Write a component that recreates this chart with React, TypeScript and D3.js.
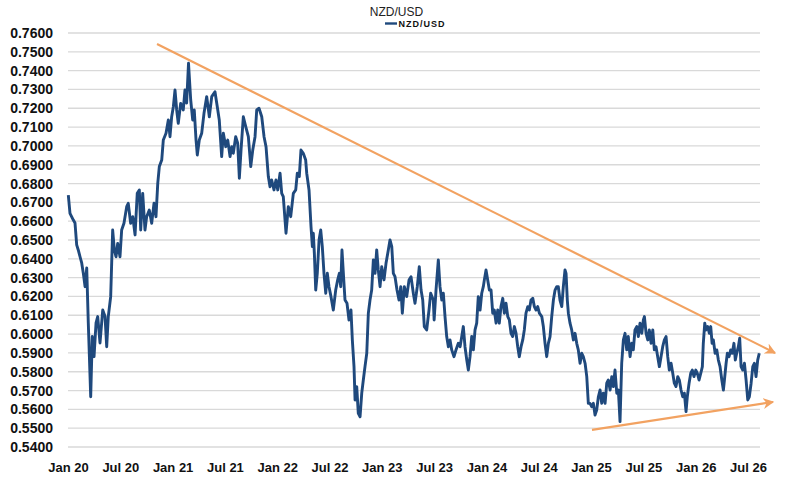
import { useEffect, useRef } from "react"
import * as d3 from "d3"

// NZD/USD, x = years since 1 Jan 2020, y = rate
const nzdUsd: [number, number][] = [
  [0.003, 0.6739], [0.019, 0.6642], [0.051, 0.6606], [0.067, 0.659], [0.083, 0.6474], [0.098, 0.6447],
  [0.115, 0.6411], [0.131, 0.6378], [0.146, 0.6325], [0.163, 0.6252], [0.179, 0.6351], [0.194, 0.6059],
  [0.217, 0.5667], [0.232, 0.5987], [0.249, 0.588], [0.268, 0.6059], [0.284, 0.6093], [0.306, 0.5953],
  [0.332, 0.6128], [0.354, 0.6093], [0.37, 0.5933], [0.385, 0.6093], [0.408, 0.6199], [0.427, 0.6553],
  [0.443, 0.6447], [0.459, 0.6411], [0.475, 0.6482], [0.497, 0.6411], [0.513, 0.6553], [0.535, 0.6589],
  [0.561, 0.6677], [0.576, 0.6695], [0.599, 0.6589], [0.619, 0.6624], [0.641, 0.6527], [0.662, 0.6748],
  [0.682, 0.6766], [0.695, 0.6553], [0.714, 0.6748], [0.736, 0.6553], [0.752, 0.6624], [0.777, 0.6659],
  [0.8, 0.6589], [0.822, 0.6695], [0.841, 0.6624], [0.858, 0.6801], [0.873, 0.689], [0.896, 0.6925],
  [0.911, 0.7031], [0.937, 0.7067], [0.959, 0.7138], [0.975, 0.7049], [0.991, 0.7155], [1.007, 0.7208],
  [1.023, 0.7297], [1.039, 0.7191], [1.054, 0.712], [1.077, 0.7226], [1.102, 0.7191], [1.118, 0.7297],
  [1.134, 0.7228], [1.152, 0.7439], [1.173, 0.7244], [1.192, 0.7138], [1.207, 0.7191], [1.224, 0.7031],
  [1.236, 0.6952], [1.255, 0.7031], [1.278, 0.7067], [1.3, 0.7173], [1.326, 0.7262], [1.351, 0.7155],
  [1.374, 0.7262], [1.405, 0.7288], [1.427, 0.7208], [1.446, 0.7138], [1.469, 0.6943], [1.485, 0.7067],
  [1.508, 0.6996], [1.527, 0.7031], [1.549, 0.6943], [1.565, 0.6996], [1.58, 0.6961], [1.603, 0.7049],
  [1.622, 0.7014], [1.638, 0.6828], [1.654, 0.6978], [1.676, 0.7155], [1.699, 0.7102], [1.724, 0.7049],
  [1.747, 0.689], [1.766, 0.6978], [1.788, 0.7049], [1.804, 0.7191], [1.826, 0.72], [1.852, 0.7155],
  [1.874, 0.7049], [1.893, 0.6996], [1.915, 0.6837], [1.931, 0.6783], [1.947, 0.6819], [1.969, 0.6766],
  [1.988, 0.6819], [2.005, 0.6766], [2.027, 0.6855], [2.043, 0.6748], [2.058, 0.673], [2.084, 0.6536],
  [2.106, 0.6677], [2.129, 0.6624], [2.154, 0.6748], [2.177, 0.6766], [2.192, 0.6855], [2.211, 0.6837],
  [2.227, 0.6978], [2.249, 0.6961], [2.272, 0.6925], [2.282, 0.6855], [2.304, 0.6766], [2.323, 0.6571],
  [2.336, 0.6465], [2.345, 0.6536], [2.355, 0.6429], [2.368, 0.6234], [2.383, 0.6323], [2.4, 0.65],
  [2.416, 0.6553], [2.431, 0.6465], [2.447, 0.6323], [2.464, 0.6217], [2.479, 0.6323], [2.495, 0.6252],
  [2.514, 0.6199], [2.536, 0.6128], [2.559, 0.6234], [2.578, 0.6288], [2.594, 0.6323], [2.607, 0.6252],
  [2.619, 0.6447], [2.636, 0.6288], [2.648, 0.6181], [2.667, 0.6164], [2.686, 0.6075], [2.705, 0.6128],
  [2.718, 0.5969], [2.734, 0.5827], [2.744, 0.565], [2.76, 0.5721], [2.775, 0.5579], [2.792, 0.5561],
  [2.808, 0.5686], [2.823, 0.5756], [2.839, 0.5827], [2.856, 0.5898], [2.871, 0.6111], [2.887, 0.6181],
  [2.903, 0.6234], [2.919, 0.6394], [2.935, 0.6323], [2.951, 0.6447], [2.966, 0.6341], [2.983, 0.6252],
  [2.999, 0.6358], [3.021, 0.6288], [3.04, 0.6376], [3.062, 0.6447], [3.078, 0.65], [3.095, 0.6465],
  [3.11, 0.6323], [3.126, 0.6305], [3.145, 0.6234], [3.164, 0.6181], [3.181, 0.6252], [3.196, 0.6111],
  [3.215, 0.6252], [3.238, 0.6199], [3.26, 0.6288], [3.279, 0.6305], [3.301, 0.6217], [3.317, 0.6164],
  [3.339, 0.6252], [3.358, 0.6358], [3.375, 0.6234], [3.391, 0.6181], [3.406, 0.604], [3.429, 0.6022],
  [3.451, 0.6128], [3.467, 0.6217], [3.492, 0.6181], [3.5, 0.6075], [3.518, 0.6234], [3.54, 0.6394],
  [3.556, 0.6252], [3.573, 0.6181], [3.588, 0.6217], [3.604, 0.6093], [3.62, 0.5987], [3.636, 0.5933],
  [3.652, 0.5969], [3.668, 0.5916], [3.69, 0.588], [3.709, 0.5916], [3.731, 0.5951], [3.748, 0.5933],
  [3.764, 0.5987], [3.779, 0.604], [3.795, 0.5933], [3.812, 0.5862], [3.827, 0.5809], [3.843, 0.588],
  [3.859, 0.5987], [3.875, 0.5916], [3.891, 0.6022], [3.907, 0.6058], [3.922, 0.6199], [3.939, 0.6128],
  [3.955, 0.6217], [3.97, 0.6252], [3.98, 0.6288], [3.996, 0.6341], [4.012, 0.6288], [4.028, 0.6234],
  [4.044, 0.6234], [4.06, 0.6111], [4.075, 0.6128], [4.092, 0.6058], [4.108, 0.6128], [4.123, 0.6058],
  [4.139, 0.6146], [4.156, 0.619], [4.171, 0.6111], [4.187, 0.6164], [4.204, 0.6093], [4.219, 0.6075],
  [4.235, 0.6004], [4.251, 0.5987], [4.267, 0.604], [4.283, 0.6004], [4.299, 0.5933], [4.314, 0.588],
  [4.331, 0.5933], [4.347, 0.5969], [4.362, 0.6022], [4.378, 0.6111], [4.395, 0.6146], [4.41, 0.6128],
  [4.426, 0.6181], [4.443, 0.619], [4.458, 0.6146], [4.474, 0.6128], [4.49, 0.6146], [4.506, 0.6111],
  [4.529, 0.6093], [4.544, 0.604], [4.56, 0.5951], [4.576, 0.588], [4.592, 0.5951], [4.608, 0.5987],
  [4.624, 0.6093], [4.64, 0.6181], [4.656, 0.6234], [4.672, 0.6252], [4.687, 0.6252], [4.703, 0.6181],
  [4.72, 0.6146], [4.735, 0.6252], [4.751, 0.6341], [4.761, 0.6323], [4.773, 0.6181], [4.783, 0.6111],
  [4.799, 0.6058], [4.815, 0.6022], [4.831, 0.5969], [4.847, 0.6004], [4.863, 0.5951], [4.878, 0.5916],
  [4.895, 0.5845], [4.911, 0.5898], [4.926, 0.588], [4.943, 0.5845], [4.959, 0.5774], [4.974, 0.5632],
  [4.99, 0.5632], [5.006, 0.5614], [5.022, 0.5632], [5.038, 0.557], [5.054, 0.5597], [5.07, 0.5667],
  [5.086, 0.5703], [5.102, 0.5632], [5.117, 0.5686], [5.134, 0.5632], [5.15, 0.5739], [5.165, 0.5756],
  [5.182, 0.5703], [5.198, 0.5774], [5.213, 0.5721], [5.229, 0.5809], [5.246, 0.5686], [5.261, 0.5703],
  [5.277, 0.5535], [5.293, 0.5845], [5.309, 0.5969], [5.325, 0.6004], [5.341, 0.5916], [5.356, 0.5987],
  [5.373, 0.588], [5.389, 0.5951], [5.404, 0.5916], [5.42, 0.6022], [5.437, 0.604], [5.452, 0.5987],
  [5.468, 0.6058], [5.485, 0.6004], [5.5, 0.6075], [5.51, 0.6093], [5.526, 0.6004], [5.542, 0.5969],
  [5.557, 0.6022], [5.574, 0.5951], [5.59, 0.6022], [5.605, 0.5916], [5.621, 0.5933], [5.637, 0.588],
  [5.653, 0.5827], [5.669, 0.588], [5.685, 0.5933], [5.701, 0.5969], [5.717, 0.5987], [5.733, 0.588],
  [5.748, 0.5809], [5.765, 0.5845], [5.781, 0.5792], [5.796, 0.5739], [5.812, 0.5721], [5.829, 0.5774],
  [5.844, 0.5756], [5.86, 0.5703], [5.876, 0.5667], [5.892, 0.5686], [5.908, 0.5588], [5.92, 0.5667],
  [5.937, 0.5739], [5.953, 0.5792], [5.968, 0.5809], [5.984, 0.5774], [6.001, 0.5809], [6.016, 0.5792],
  [6.032, 0.5756], [6.049, 0.5792], [6.064, 0.5827], [6.073, 0.5951], [6.087, 0.6058], [6.099, 0.6022],
  [6.115, 0.604], [6.131, 0.6004], [6.144, 0.604], [6.157, 0.5951], [6.169, 0.5969], [6.186, 0.5898],
  [6.202, 0.5916], [6.217, 0.5862], [6.233, 0.5827], [6.25, 0.5756], [6.265, 0.5703], [6.275, 0.5756],
  [6.291, 0.5845], [6.303, 0.5898], [6.319, 0.588], [6.335, 0.5916], [6.35, 0.5898], [6.366, 0.5951],
  [6.379, 0.5862], [6.392, 0.5898], [6.408, 0.5933], [6.421, 0.5978], [6.434, 0.5827], [6.45, 0.5809],
  [6.466, 0.5845], [6.482, 0.5756], [6.498, 0.565], [6.513, 0.5667], [6.53, 0.5739], [6.546, 0.5827],
  [6.561, 0.5845], [6.577, 0.5774], [6.593, 0.5862], [6.608, 0.5898],
]

const xTickLabels = [
  "Jan 20", "Jul 20", "Jan 21", "Jul 21", "Jan 22", "Jul 22", "Jan 23",
  "Jul 23", "Jan 24", "Jul 24", "Jan 25", "Jul 25", "Jan 26", "Jul 26",
]
const xTickYears = [0, 0.5, 1, 1.5, 2, 2.5, 3, 3.5, 4, 4.5, 5, 5.5, 6, 6.5]

// hand-drawn trend lines (start, arrow end)
const upperTrend: [number, number][] = [[0.851, 0.7542], [6.759, 0.59]]
const lowerTrend: [number, number][] = [[5.009, 0.5491], [6.74, 0.5639]]

const font = "'Liberation Sans', Arial, sans-serif"

export default function App() {
  const svgRef = useRef<SVGSVGElement>(null)

  useEffect(() => {
    if (!svgRef.current) return
    const svg = d3.select(svgRef.current)
    svg.selectAll("*").remove()

    const x = d3.scaleLinear().domain([0, 6.615]).range([68, 760])
    const y = d3.scaleLinear().domain([0.54, 0.76]).range([447, 33])
    const yTicks = y.ticks(22)

    // Horizontal grid lines
    svg
      .append("g")
      .selectAll("line")
      .data(yTicks)
      .enter()
      .append("line")
      .attr("x1", x(0))
      .attr("x2", x(6.615))
      .attr("y1", (d) => y(d))
      .attr("y2", (d) => y(d))
      .attr("stroke", "#d9d9d9")
      .attr("stroke-width", 1.3)

    // Y axis labels
    const yAxis = svg
      .append("g")
      .attr("transform", "translate(60,0)")
      .call(d3.axisLeft(y).tickValues(yTicks).tickFormat(d3.format(".4f")).tickSize(0).tickPadding(7))
    yAxis.select(".domain").remove()
    yAxis
      .selectAll("text")
      .attr("fill", "#111")
      .style("font-family", font)
      .style("font-weight", "bold")
      .style("font-size", "14px")

    // X axis labels
    const xAxis = svg
      .append("g")
      .attr("transform", "translate(0,447)")
      .call(
        d3
          .axisBottom(x)
          .tickValues(xTickYears)
          .tickFormat((_, i) => xTickLabels[i])
          .tickSize(0)
          .tickPadding(16),
      )
    xAxis.select(".domain").remove()
    xAxis
      .selectAll("text")
      .attr("fill", "#111")
      .style("font-family", font)
      .style("font-weight", "bold")
      .style("font-size", "13px")

    // Trend lines with arrows
    const defs = svg.append("defs")
    defs
      .append("marker")
      .attr("id", "arrow")
      .attr("viewBox", "0 0 10 10")
      .attr("refX", 9)
      .attr("refY", 5)
      .attr("markerWidth", 5)
      .attr("markerHeight", 5)
      .attr("markerUnits", "strokeWidth")
      .attr("orient", "auto")
      .append("path")
      .attr("d", "M0,0 L10,5 L0,10 L3,5 Z")
      .attr("fill", "#f2a261")

    const line = d3
      .line<[number, number]>()
      .x((d) => x(d[0]))
      .y((d) => y(d[1]))

    ;[upperTrend, lowerTrend].forEach((t) => {
      svg
        .append("path")
        .attr("d", line(t))
        .attr("fill", "none")
        .attr("stroke", "#f2a261")
        .attr("stroke-width", 2.2)
        .attr("marker-end", "url(#arrow)")
    })

    // Series
    svg
      .append("path")
      .attr("d", line(nzdUsd))
      .attr("fill", "none")
      .attr("stroke", "#1f497d")
      .attr("stroke-width", 2.9)
      .attr("stroke-linejoin", "round")

    // Title
    svg
      .append("text")
      .attr("x", 396.5)
      .attr("y", 15.5)
      .attr("text-anchor", "middle")
      .attr("fill", "#222")
      .style("font-family", font)
      .style("font-size", "12px")
      .text("NZD/USD")

    // Legend
    svg
      .append("line")
      .attr("x1", 385)
      .attr("x2", 397)
      .attr("y1", 23.5)
      .attr("y2", 23.5)
      .attr("stroke", "#1f497d")
      .attr("stroke-width", 2.4)
    svg
      .append("text")
      .attr("x", 398.5)
      .attr("y", 27)
      .attr("fill", "#111")
      .style("font-family", font)
      .style("font-weight", "bold")
      .style("font-size", "9px")
      .style("letter-spacing", "1px")
      .text("NZD/USD")
  }, [])

  return (
    <div style={{ position: "absolute", left: 0, top: 0, width: 788, height: 483, background: "#fff" }}>
      <svg ref={svgRef} width={788} height={483}></svg>
    </div>
  )
}
